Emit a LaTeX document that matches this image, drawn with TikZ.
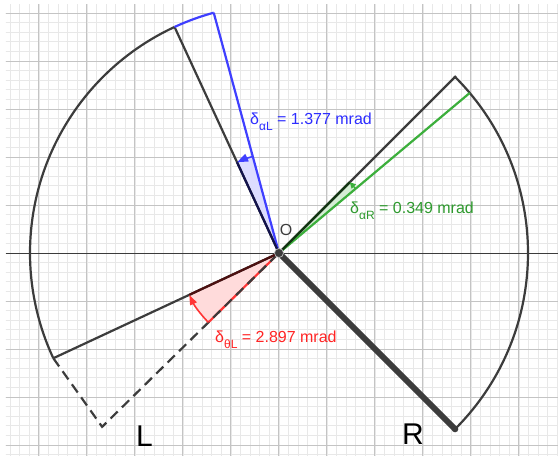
\documentclass[tikz,border=0pt]{standalone}
\usepackage{fontspec}
\setmainfont{Liberation Sans}
\usetikzlibrary{arrows.meta}
\definecolor{dk}{HTML}{3C3C3C}
\definecolor{bl}{HTML}{3F3FFF}
\definecolor{blt}{HTML}{2D2DFF}
\definecolor{gr}{HTML}{3CAF3C}
\definecolor{grt}{HTML}{2E9A2E}
\definecolor{rd}{HTML}{FF3535}
\definecolor{rdt}{HTML}{FF2424}
\definecolor{majg}{HTML}{C4C4C4}
\definecolor{ming}{HTML}{E8E8E8}
\newcommand\lsub[1]{\raisebox{-6pt}{\fontsize{12}{12}\selectfont #1}}
\tikzset{
  minorgrid/.style={ming, line width=0.7pt},
  majorgrid/.style={majg, line width=1pt},
  axisline/.style={dk, line width=1pt},
  dkline/.style={dk, line width=2.2pt},
  blline/.style={bl, line width=2.2pt},
  grline/.style={gr, line width=2.2pt},
  rdline/.style={rd, line width=2.2pt},
  dashline/.style={dk, line width=2.2pt, dash pattern=on 10pt off 6pt},
  thickline/.style={dk, line width=6pt},
  lbl/.style={font=\fontsize{16}{18}\selectfont, inner sep=0pt, anchor=base west},
  big/.style={font=\fontsize{30}{32}\selectfont, inner sep=0pt, anchor=base west, text=black},
  dot/.style={circle, fill=dk, inner sep=0pt, minimum size=#1},
}
\begin{document}
\begin{tikzpicture}[x=1pt,y=1pt]
\useasboundingbox (-279,-206) rectangle (279,253);
\fill[white] (-279,-206) rectangle (279,253);
% grid
\begin{scope}
\clip (-273,-202) rectangle (279,249);
\draw[minorgrid] (-288,-211.2) grid[step=9.6pt] (288,259.2);
\draw[majorgrid] (-288,-240) grid[step=48pt] (288,288);
\end{scope}
\draw[axisline] (-273,0) -- (279,0);
% coordinates
\coordinate (O) at (0,0);
\coordinate (Ltop) at (114.8:249);
\coordinate (Lbot) at (205:249);
\coordinate (Ld) at (224.5:248);
\coordinate (B) at (105.2:249);
\coordinate (Rtop) at (45:249);
\coordinate (G) at (40:249);
\coordinate (Rbot) at (-45:249);
\coordinate (bi1) at (105.2:100);
\coordinate (bi2) at (114.8:100);
\coordinate (ri1) at (224.5:99);
\coordinate (ri2) at (205:99);
\coordinate (gi1) at (40:100);
\coordinate (gi2) at (45:100);
% sector fills
\fill[bl!18] (O) -- (bi1) arc[start angle=105.2, end angle=114.8, radius=100] -- cycle;
\fill[rd!18] (O) -- (ri1) arc[start angle=224.5, end angle=205, radius=99] -- cycle;
\fill[gr!22] (O) -- (gi1) arc[start angle=40, end angle=45, radius=100] -- cycle;
% black frame
\draw[dkline] (Ltop) arc[start angle=114.8, end angle=205, radius=249];
\draw[dkline] (O) -- (Ltop);
\draw[dkline] (O) -- (Lbot);
\draw[dkline] (O) -- (Rtop);
\draw[dkline] (Rtop) arc[start angle=45, end angle=-45, radius=249];
% blue
\draw[blline] (Ltop) arc[start angle=114.8, end angle=105.2, radius=249];
\draw[blline] (O) -- (B);
% red + dashed
\draw[rdline] (O) -- (ri1);
\draw[dashline] (Lbot) -- (Ld) -- (O);
% green
\draw[grline] (O) -- (G);
% angle edges
\draw[line width=2.2pt, bl!30!black] (O) -- (bi2);
\draw[line width=2.2pt, rd!30!black] (O) -- (ri2);
\draw[line width=2.2pt, gr!30!black] (O) -- (gi2);
% angle arrows
\draw[bl, line width=1.6pt, -{Triangle[length=11pt,width=8pt]}] (bi1) arc[start angle=105.2, end angle=114.8, radius=100];
\draw[rd, line width=1.6pt, -{Triangle[length=10pt,width=7pt]}] (ri1) arc[start angle=224.5, end angle=205, radius=99];
\draw[gr, line width=1.4pt, -{Triangle[length=6pt,width=6pt]}] (gi1) arc[start angle=40, end angle=45, radius=100];
% thick
\draw[thickline] (O) -- (Rbot);
\node[dot=6.5pt] (pR) at (Rbot) {};
\node[dot=3.5pt] (pT) at (Rtop) {};
\node[circle, fill=dk, draw=white!75!black, line width=0.7pt, inner sep=0pt, minimum size=9pt] (pO) at (O) {};
% labels
\node[font=\fontsize{16}{18}\selectfont, inner sep=0pt, text=dk] (lO) at (7,23) {O};
\node[lbl, text=blt] (lb) at (-29,129) {δ\lsub{αL} = 1.377 mrad};
\node[lbl, text=grt] (lg) at (71,40) {δ\lsub{αR} = 0.349 mrad};
\node[lbl, text=rdt] (lr) at (-64,-89) {δ\lsub{θL} = 2.897 mrad};
\node[big] (lL) at (-143,-193) {L};
\node[big] (lR) at (123,-191) {R};
\end{tikzpicture}
\end{document}
